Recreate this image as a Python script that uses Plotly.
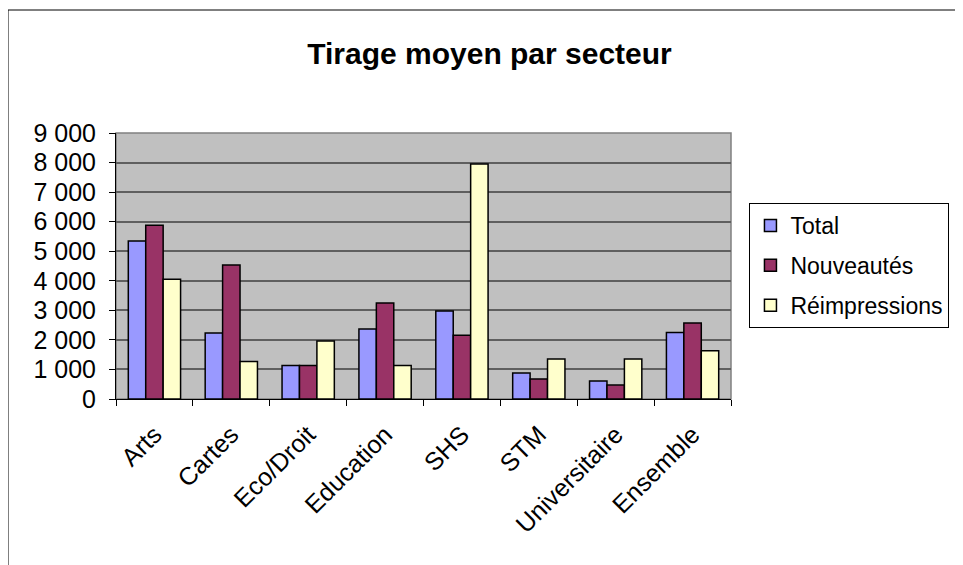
import plotly.graph_objects as go

# données
secteurs = ['Arts', 'Cartes', 'Eco/Droit', 'Education', 'SHS', 'STM', 'Universitaire', 'Ensemble']
total = [5350, 2230, 1130, 2370, 2980, 880, 610, 2250]
nouveautes = [5880, 4530, 1130, 3250, 2160, 680, 470, 2570]
reimpressions = [4050, 1270, 1960, 1130, 7950, 1350, 1350, 1630]

series = [
    ('Total', total, '#9999FF'),
    ('Nouveautés', nouveautes, '#993366'),
    ('Réimpressions', reimpressions, '#FFFFCC'),
]

fig = go.Figure()
for nom, vals, couleur in series:
    fig.add_trace(go.Bar(x=secteurs, y=vals, name=nom, legendgroup=nom,
                         marker=dict(color=couleur, line=dict(color='black', width=1.5))))

# la page a une marge de 8 px : tout est décalé de 8 px
fig.update_layout(
    width=963, height=565,
    margin=dict(l=108, r=240, t=125, b=174, autoexpand=False),
    paper_bgcolor='white', plot_bgcolor='#C0C0C0',
    font=dict(family='Liberation Sans, Arial', size=25, color='black'),
    separators=', ',
    title=dict(text='<b>Tirage moyen par secteur</b>', x=0.5, xanchor='center',
               y=0.92, yanchor='middle', font=dict(size=30)),
    barmode='group', bargap=0.32, bargroupgap=0,
    legend=dict(x=1.03, y=0.737, xanchor='left', yanchor='top',
                bordercolor='black', borderwidth=1, bgcolor='white',
                font=dict(size=23), itemwidth=30, tracegroupgap=7),
    showlegend=True,
)

fig.update_yaxes(range=[0, 9000], dtick=1000, tickformat=',d',
                 showgrid=True, gridcolor='#5f5f5f', gridwidth=1.5,
                 showline=True, linecolor='black', linewidth=1,
                 ticks='outside', ticklen=6, tickcolor='black', zeroline=False,
                 ticklabelstandoff=8)
fig.update_xaxes(tickangle=-45, tickson='boundaries', ticks='outside', ticklen=6,
                 tickcolor='black', showline=True, linecolor='black', linewidth=1,
                 ticklabelstandoff=10)

# cadre du graphique et bord de la zone de tracé
fig.add_shape(type='rect', xref='paper', yref='paper', x0=0, x1=1, y0=0, y1=1,
              line=dict(color='#808080', width=1.5), layer='below')
fig.add_shape(type='line', xref='paper', yref='paper', x0=-108/615, x1=1.5, y0=389/266, y1=389/266,
              line=dict(color='black', width=1))
fig.add_shape(type='line', xref='paper', yref='paper', x0=-108/615, x1=-108/615, y0=389/266, y1=-0.7,
              line=dict(color='black', width=1))

fig.write_html("out.html")
